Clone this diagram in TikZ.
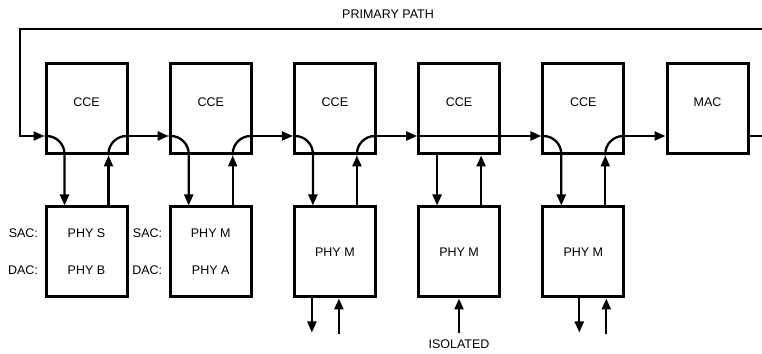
\documentclass[tikz,border=0pt]{standalone}
\usepackage{fontspec}
\setmainfont{Liberation Sans}
\usetikzlibrary{arrows.meta, positioning, calc}

\tikzset{
  block/.style={draw, line width=3pt, minimum width=81pt, minimum height=90pt, inner sep=0pt},
  wire/.style={line width=2.3pt},
  arr/.style={wire, -{Triangle[length=11pt, width=9pt]}},
}

\begin{document}
\begin{tikzpicture}[x=1pt, y=1pt, font=\fontsize{12.5}{14}\selectfont]
  \useasboundingbox (0,0) rectangle (762,353);
  % blocks
  \foreach \i/\x in {1/86.5, 2/210.7, 3/334.9, 4/459.1, 5/583.3}{%
    \node[block] (cce\i) at (\x,244) {};
    \node (ccet\i) at ($(cce\i.center)+(0,6.5)$) {CCE};
    \node[block] (phy\i) at (\x,101) {};
    \coordinate (in\i) at ($(cce\i.west)+(0,-27)$);
    \coordinate (out\i) at ($(cce\i.east)+(0,-27)$);}
  \node[block] (mac) at (707.5,244) {};
  \node (mact) at ($(mac.center)+(0,6.5)$) {MAC};
  \coordinate (inm) at ($(mac.west)+(0,-27)$);
  \coordinate (outm) at ($(mac.east)+(0,-27)$);
  \node (path) at (388,338.5) {PRIMARY PATH};
  % phy texts
  \node (phys) at ($(phy1.center)+(0,18.5)$) {PHY S};
  \node (phyb) at ($(phy1.center)+(0,-18.5)$) {PHY B};
  \node (phym) at ($(phy2.center)+(0,18.5)$) {PHY M};
  \node (phya) at ($(phy2.center)+(0,-18.5)$) {PHY A};
  \foreach \i in {1,2}{%
    \node[anchor=east] (sac\i) at ($(phy\i.west)+(-3,18.5)$) {SAC:};
    \node[anchor=east] (dac\i) at ($(phy\i.west)+(-3,-18.5)$) {DAC:};}
  \foreach \i in {3,4,5}{%
    \node (phyt\i) at (phy\i.center) {PHY M};}
  \node (iso) at (459,9) {ISOLATED};

  % primary path loop
  \coordinate (topR) at (762,324);
  \coordinate (topL) at (20,324);
  \coordinate (endR) at (762,217);
  \draw[arr] (topR) -- (topL) |- (in1);
  \foreach \i/\j in {1/2, 2/3, 3/4, 4/5}{%
    \draw[arr] (out\i) -- (in\j);}
  \draw[arr] (out5) -- (inm);
  \draw[wire] (outm) -- (endR);

  % through the cce blocks
  \foreach \i in {1,2,3,5}{%
    \draw[arr, rounded corners=18pt] (in\i) -| ($(phy\i.north)+(-22,0)$);
    \draw[arr] ($(phy\i.north)+(22,0)$) -- ($(cce\i.south)+(22,0)$);
    \draw[wire, rounded corners=18pt] ($(cce\i.south)+(22,0)$) |- (out\i);}
  \draw[wire] (in4) -- (out4);
  \draw[arr] ($(cce4.south)+(-22,0)$) -- ($(phy4.north)+(-22,0)$);
  \draw[arr] ($(phy4.north)+(22,0)$) -- ($(cce4.south)+(22,0)$);

  % below the phy blocks
  \coordinate (d3) at ($(phy3.south)+(-23,-34)$);
  \coordinate (u3) at ($(phy3.south)+(4,-36)$);
  \coordinate (u4) at (459,20);
  \coordinate (d5) at ($(phy5.south)+(-4,-34)$);
  \coordinate (u5) at ($(phy5.south)+(23,-36)$);
  \draw[arr] ($(phy3.south)+(-23,0)$) -- (d3);
  \draw[arr] (u3) -- ($(phy3.south)+(4,0)$);
  \draw[arr] (u4) -- (u4 |- phy4.south);
  \draw[arr] ($(phy5.south)+(-4,0)$) -- (d5);
  \draw[arr] (u5) -- ($(phy5.south)+(23,0)$);
\end{tikzpicture}
\end{document}
